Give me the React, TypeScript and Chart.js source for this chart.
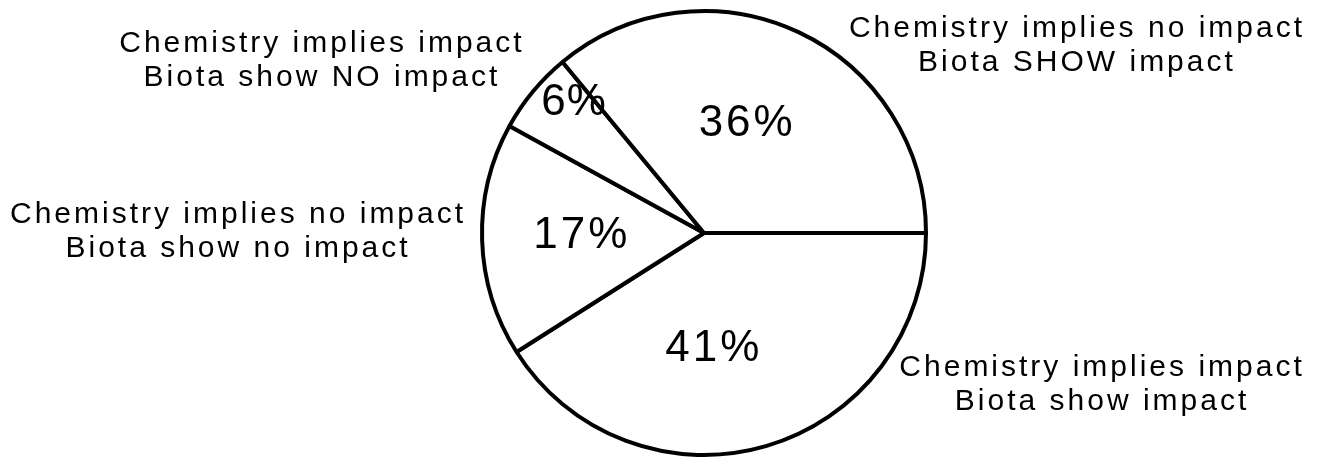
import React, { useEffect, useRef } from "react";
import { Chart, registerables } from "chart.js";

Chart.register(...registerables);

// Slices listed clockwise starting at 3 o'clock
const categories: string[] = [
  "Chemistry implies impact|Biota show impact",
  "Chemistry implies no impact|Biota show no impact",
  "Chemistry implies impact|Biota show NO impact",
  "Chemistry implies no impact|Biota SHOW impact",
];
const values: number[] = [41, 17, 6, 36];
const percentLabels: string[] = ["41%", "17%", "6%", "36%"];

// label placement relative to pie centre, in units of radius (layout only)
const outerLabelOffsets: [number, number][] = [
  [1.784, 0.608],
  [-2.108, -0.081],
  [-1.73, -0.851],
  [1.671, -0.919],
];
const innerLabelOffsets: [number, number][] = [
  [0.04, 0.523],
  [-0.555, 0.014],
  [-0.59, -0.585],
  [0.19, -0.491],
];

const FONT = '"Liberation Sans", Arial, Helvetica, sans-serif';

const labelPlugin = {
  id: "pieLabels",
  afterDatasetsDraw(chart: any) {
    const meta = chart.getDatasetMeta(0);
    const arc0 = meta.data[0] as any;
    if (!arc0) return;
    const cx = arc0.x;
    const cy = arc0.y;
    const R = arc0.outerRadius;
    const ctx = chart.ctx as CanvasRenderingContext2D;
    ctx.save();
    ctx.fillStyle = "#000";
    ctx.textAlign = "center";
    ctx.textBaseline = "middle";

    // outer category labels
    ctx.font = `30px ${FONT}`;
    (ctx as any).letterSpacing = "3px";
    categories.forEach((cat, i) => {
      const [dx, dy] = outerLabelOffsets[i];
      const lines = cat.split("|");
      lines.forEach((line, j) => {
        ctx.fillText(line, cx + dx * R + 2, cy + dy * R + j * 34);
      });
    });

    // percentages
    ctx.font = `44px ${FONT}`;
    percentLabels.forEach((p, i) => {
      const [dx, dy] = innerLabelOffsets[i];
      (ctx as any).letterSpacing = p.length < 3 ? "1px" : "3px";
      ctx.fillText(p, cx + dx * R + 1, cy + dy * R);
    });
    ctx.restore();
  },
};

export default function App() {
  const canvasRef = useRef<HTMLCanvasElement | null>(null);

  useEffect(() => {
    if (!canvasRef.current) return;
    const chart = new Chart(canvasRef.current, {
      type: "pie",
      data: {
        labels: categories.map((c) => c.replace("|", " / ")),
        datasets: [
          {
            data: values,
            backgroundColor: "#ffffff",
            borderColor: "#000000",
            borderWidth: 4,
            hoverOffset: 0,
          },
        ],
      },
      options: {
        animation: false,
        responsive: true,
        maintainAspectRatio: false,
        rotation: 90,
        layout: { padding: { top: 9, bottom: 4, left: 480, right: 397 } },
        plugins: {
          legend: { display: false },
          tooltip: { enabled: false },
        },
      },
      plugins: [labelPlugin],
    });
    return () => chart.destroy();
  }, []);

  return (
    <div
      style={{
        position: "absolute",
        left: 0,
        top: 0,
        width: "1325px",
        height: "461px",
        background: "#ffffff",
      }}
    >
      <canvas ref={canvasRef} />
    </div>
  );
}
